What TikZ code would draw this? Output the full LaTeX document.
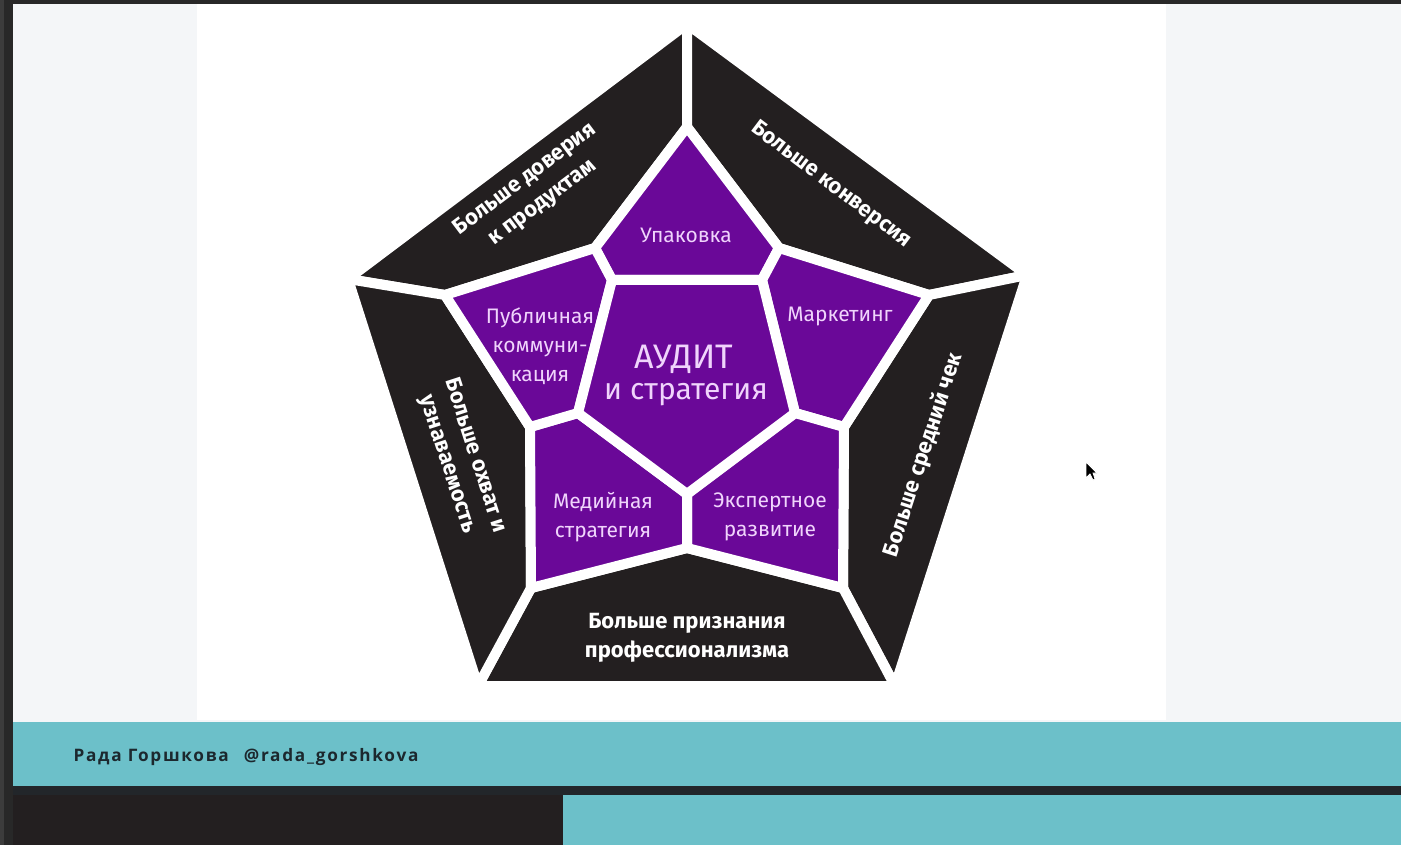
\documentclass[tikz,border=0pt]{standalone}
\usepackage{fontspec}
\setmainfont{Fira Sans}
\newfontfamily\footfont[LetterSpace=10]{Open Sans}
\usetikzlibrary{positioning}

\definecolor{framedark}{RGB}{40,40,40}
\definecolor{framegray}{RGB}{60,60,60}
\definecolor{slidebg}{RGB}{244,246,248}
\definecolor{barteal}{RGB}{108,192,201}
\definecolor{barline}{RGB}{34,38,42}
\definecolor{footdark}{RGB}{35,31,32}
\definecolor{footink}{RGB}{28,40,46}
\definecolor{cellpurple}{RGB}{106,8,152}
\definecolor{cellblack}{RGB}{35,31,32}
\definecolor{celltext}{RGB}{240,212,252}

\begin{document}
\begin{tikzpicture}[x=1pt,y=-1pt,
    cell/.style={draw=white,line width=10pt,line join=round},
    purplecell/.style={cell,fill=cellpurple},
    blackcell/.style={cell,fill=cellblack},
    intext/.style={text=celltext,align=center,font=\fontsize{21}{29}\selectfont},
    outtext/.style={text=white,align=center,font=\bfseries\fontsize{22}{29}\selectfont}]
    \useasboundingbox (0,0) rectangle (1401,845);

    % Slide and footer
    \fill[framedark] (0,0) rectangle (1401,845);
    \fill[framegray] (0,0) rectangle (4,845);
    \fill[slidebg] (13,4) rectangle (1401,722);
    \fill[white] (197,4) rectangle (1166,720);
    \fill[barteal] (13,722) rectangle (1401,786);
    \fill[barline] (13,786) rectangle (1401,795);
    \fill[footdark] (13,795) rectangle (563,845);
    \fill[barteal] (563,795) rectangle (1401,845);

    % Vertices
    \coordinate (dT) at (687,24);
    \coordinate (dR) at (1027,275);
    \coordinate (dBR) at (895,686);
    \coordinate (dBL) at (478,686);
    \coordinate (dL) at (348,279);
    \coordinate (cT) at (687,127);
    \coordinate (cR) at (929,295);
    \coordinate (cBR) at (843,588);
    \coordinate (cBL) at (531,588);
    \coordinate (cL) at (445,295);
    \coordinate (bTL) at (595,248);
    \coordinate (bTR) at (779,248);
    \coordinate (bR) at (844,427);
    \coordinate (bB) at (687,548);
    \coordinate (bL) at (530,427);
    \coordinate (aTL) at (612,280);
    \coordinate (aTR) at (762,280);
    \coordinate (aR) at (795,413);
    \coordinate (aB) at (687,494);
    \coordinate (aL) at (578,413);

    % Outer ring
    \draw[blackcell] (dL) -- (dT) -- (cT) -- (bTL) -- (cL) -- cycle;
    \draw[blackcell] (dT) -- (dR) -- (cR) -- (bTR) -- (cT) -- cycle;
    \draw[blackcell] (dR) -- (dBR) -- (cBR) -- (bR) -- (cR) -- cycle;
    \draw[blackcell] (dBR) -- (dBL) -- (cBL) -- (bB) -- (cBR) -- cycle;
    \draw[blackcell] (dBL) -- (dL) -- (cL) -- (bL) -- (cBL) -- cycle;

    % Inner ring and centre
    \draw[purplecell] (aTL) -- (bTL) -- (cT) -- (bTR) -- (aTR) -- cycle;
    \draw[purplecell] (aTR) -- (bTR) -- (cR) -- (bR) -- (aR) -- cycle;
    \draw[purplecell] (aR) -- (bR) -- (cBR) -- (bB) -- (aB) -- cycle;
    \draw[purplecell] (aB) -- (bB) -- (cBL) -- (bL) -- (aL) -- cycle;
    \draw[purplecell] (aL) -- (bL) -- (cL) -- (bTL) -- (aTL) -- cycle;
    \draw[purplecell] (aTL) -- (aTR) -- (aR) -- (aB) -- (aL) -- cycle;

    % Labels
    \node[intext] (upak) at (686,235) {Упаковка};
    \node[intext] (mark) at (840,317) {Маркетинг};
    \node[intext] (publ) at (540,346) {Публичная\\коммуни-\\кация};
    \node[intext] (medi) at (603,517) {Медийная\\стратегия};
    \node[intext] (eksp) at (770,517) {Экспертное\\развитие};
    \node[text=celltext,font=\fontsize{34}{36}\selectfont] (audit) at (684,359) {АУДИТ};
    \node[text=celltext,font=\fontsize{30}{36}\selectfont] (strat) at (686,395) {и стратегия};

    \node[outtext,rotate=37] (trust) at (534,191) {Больше доверия\\к продуктам};
    \node[outtext,rotate=-37] (conv) at (831,185) {Больше конверсия};
    \node[outtext,rotate=72] (check) at (923,455) {Больше средний чек};
    \node[outtext,rotate=-72] (reach) at (461,460) {Больше охват и\\узнаваемость};
    \node[outtext] (prof) at (687,638) {Больше признания\\профессионализма};

    % Footer text and cursor
    \node[anchor=west,text=footink,font=\footfont\bfseries\fontsize{17.2}{20}\selectfont] (author) at (70,757) {Рада Горшкова\hspace{15pt}@rada\_gorshkova};
    \fill[black,draw=white,line width=0.8pt] (1086,462) -- (1086,478) -- (1090,474) -- (1093,480) -- (1095,479) -- (1093,473) -- (1097,473) -- cycle;
\end{tikzpicture}
\end{document}
